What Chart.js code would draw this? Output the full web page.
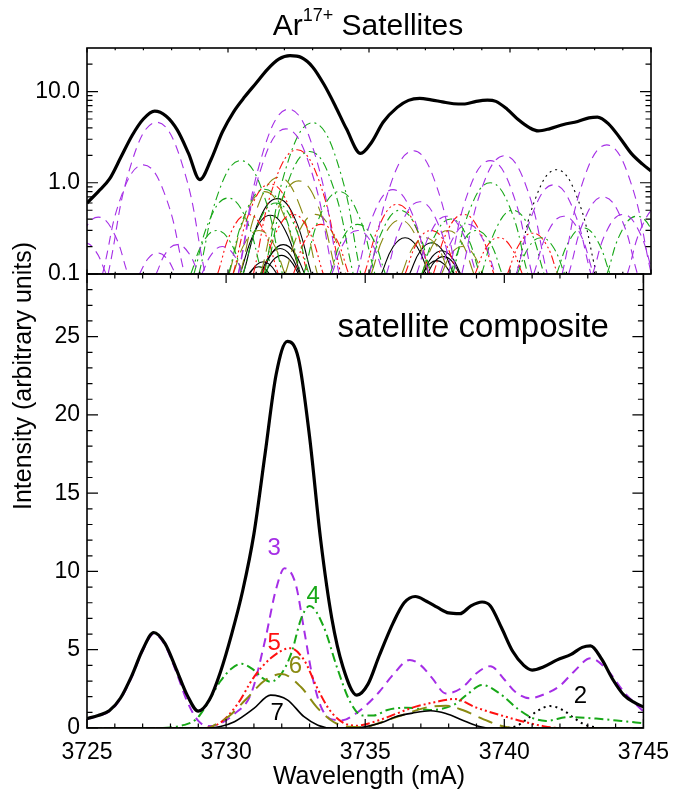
<!DOCTYPE html>
<html>
<head>
<meta charset="utf-8">
<title>Ar17+ Satellites</title>
<script src="https://cdn.jsdelivr.net/npm/chart.js"></script>
<style>
  body { margin: 0; background: #fff; }
  #lienzo { position: relative; width: 680px; height: 794px; }
  #lienzo canvas { position: absolute; left: 0; top: 0; }
</style>
</head>
<body>
<div id="lienzo">
  <canvas id="panelLog" width="680" height="794"></canvas>
  <canvas id="panelLineal" width="680" height="794"></canvas>
</div>
<script>
// Rango de longitud de onda (mA)
const xMin = 3725;
const xMax = 3745;
const xTicks = [3725, 3730, 3735, 3740, 3745];
const logTicks = [0.1, 1, 10];
const linTicks = [0, 5, 10, 15, 20, 25];

// Espectro compuesto de satélites [lambda, intensidad]
const composite = [[3725.0,0.6],[3725.4,0.8],[3725.8,1.1],[3726.2,1.9],[3726.6,3.3],[3727.0,5.0],[3727.4,6.1],[3727.8,5.4],[3728.2,3.8],[3728.6,2.1],[3729.0,1.08],[3729.4,1.8],[3729.8,3.6],[3730.2,6.0],[3730.6,8.8],[3731.0,12.4],[3731.4,17.5],[3731.8,22.6],[3732.2,24.7],[3732.6,23.6],[3733.0,18.6],[3733.4,12.0],[3733.8,7.0],[3734.2,3.9],[3734.7,2.1],[3735.1,2.8],[3735.5,4.6],[3736.0,6.7],[3736.4,8.0],[3736.8,8.4],[3737.2,8.1],[3737.6,7.7],[3738.0,7.35],[3738.4,7.3],[3738.8,7.8],[3739.2,8.05],[3739.5,7.8],[3739.9,6.4],[3740.3,4.9],[3740.7,4.0],[3741.0,3.7],[3741.4,3.9],[3741.9,4.35],[3742.4,4.7],[3742.8,5.15],[3743.1,5.25],[3743.5,4.4],[3743.9,3.1],[3744.3,2.1],[3744.7,1.6],[3745.0,1.35]];

// Suma por grupo n (panel inferior)
const curve2 = [[3739.9,0],[3740.4,0.1],[3740.8,0.55],[3741.2,1.1],[3741.65,1.4],[3742.1,1.15],[3742.5,0.65],[3742.9,0.2],[3743.3,0.03]];
const curve3 = [[3725.0,0.58],[3725.4,0.77],[3725.8,1.06],[3726.2,1.84],[3726.6,3.22],[3727.0,4.92],[3727.4,6.02],[3727.8,5.3],[3728.2,3.62],[3728.6,1.7],[3729.0,0.45],[3729.4,0.12],[3729.8,0.3],[3730.3,0.9],[3730.9,2.2],[3731.4,5.6],[3731.8,8.9],[3732.1,10.2],[3732.5,9.2],[3732.8,6.3],[3733.1,3.3],[3733.4,1.4],[3733.8,0.55],[3734.2,0.5],[3734.6,0.85],[3735.0,1.4],[3735.5,2.3],[3736.0,3.4],[3736.6,4.35],[3737.0,4.0],[3737.4,3.2],[3737.9,2.2],[3738.5,2.6],[3739.0,3.5],[3739.5,3.95],[3740.0,3.1],[3740.4,2.3],[3740.9,1.9],[3741.5,2.2],[3742.0,2.7],[3742.5,3.6],[3743.1,4.45],[3743.7,3.7],[3744.3,2.3],[3745.0,1.05]];
const curve4 = [[3725.0,0],[3727.6,0],[3728.0,0.03],[3728.5,0.2],[3728.8,0.4],[3729.0,0.7],[3729.2,1.2],[3729.8,3.0],[3730.2,3.8],[3730.55,4.1],[3731.0,3.7],[3731.3,3.2],[3731.6,2.95],[3732.0,3.5],[3732.35,4.8],[3732.7,7.0],[3733.0,7.8],[3733.5,6.5],[3734.0,3.8],[3734.45,1.7],[3734.9,0.8],[3735.3,0.8],[3735.8,1.15],[3736.5,1.3],[3737.3,1.15],[3738.2,1.5],[3738.7,2.2],[3739.2,2.75],[3739.8,2.25],[3740.5,1.2],[3741.0,0.65],[3741.5,0.45],[3742.3,0.7],[3743.3,0.6],[3744.2,0.45],[3745.0,0.3]];
const curve5 = [[3725.0,0],[3729.2,0],[3729.8,0.35],[3730.4,1.5],[3731.0,3.25],[3731.6,4.45],[3732.3,5.1],[3732.8,4.35],[3733.25,2.65],[3733.7,1.2],[3734.2,0.35],[3734.7,0.15],[3735.5,0.5],[3736.1,0.9],[3736.7,1.3],[3737.5,1.65],[3738.2,1.85],[3739.0,1.3],[3739.9,0.8],[3740.7,0.4],[3741.4,0.12],[3742.0,0],[3745.0,0]];
const curve6 = [[3725.0,0],[3729.3,0],[3729.7,0.3],[3730.1,0.75],[3730.7,1.8],[3731.4,3.05],[3732.0,3.45],[3732.7,2.6],[3733.25,1.35],[3733.85,0.4],[3734.4,0.08],[3735.0,0.05],[3735.3,0.2],[3736.2,0.75],[3737.3,1.35],[3737.9,1.42],[3738.5,1.15],[3739.2,0.6],[3739.8,0.18],[3740.3,0],[3745.0,0]];
const curve7 = [[3725.0,0],[3729.3,0],[3729.8,0.1],[3730.3,0.4],[3731.0,1.25],[3731.6,2.1],[3732.2,1.8],[3732.8,0.72],[3733.3,0.18],[3733.8,0],[3734.6,0],[3735.0,0.08],[3735.6,0.35],[3736.1,0.72],[3736.7,0.95],[3737.35,1.1],[3737.9,0.93],[3738.5,0.5],[3739.0,0.15],[3739.5,0],[3745.0,0]];

// Líneas individuales (panel logarítmico), una lista de puntos por línea
const lines2 = [
  [[3740.23,0.1],[3740.94,0.72],[3741.65,1.39],[3742.36,0.72],[3743.07,0.1]]
];
const lines3 = [
  [[3725.75,0.1],[3726.61,1.77],[3727.47,4.6],[3728.33,1.77],[3729.19,0.1]],
  [[3725.55,0.1],[3726.27,0.79],[3727.0,1.57],[3727.73,0.79],[3728.46,0.1]],
  [[3724.35,0.1],[3724.88,0.29],[3725.4,0.42],[3725.93,0.29],[3726.45,0.1]],
  [[3726.86,0.1],[3727.18,0.149],[3727.5,0.17],[3727.82,0.149],[3728.14,0.1]],
  [[3727.45,0.1],[3727.82,0.174],[3728.2,0.21],[3728.58,0.174],[3728.96,0.1]],
  [[3724.12,0.1],[3724.51,0.181],[3724.9,0.22],[3725.29,0.181],[3725.68,0.1]],
  [[3730.36,0.1],[3731.26,2.26],[3732.15,6.4],[3733.04,2.26],[3733.94,0.1]],
  [[3730.37,0.1],[3731.21,1.56],[3732.05,3.9],[3732.89,1.56],[3733.73,0.1]],
  [[3734.57,0.1],[3735.21,0.49],[3735.85,0.84],[3736.49,0.49],[3737.13,0.1]],
  [[3735.02,0.1],[3735.8,1.03],[3736.57,2.24],[3737.34,1.03],[3738.12,0.1]],
  [[3738.29,0.1],[3739.04,0.94],[3739.8,1.98],[3740.56,0.94],[3741.32,0.1]],
  [[3737.82,0.1],[3738.56,0.86],[3739.3,1.75],[3740.04,0.86],[3740.78,0.1]],
  [[3741.85,0.1],[3742.64,1.15],[3743.43,2.6],[3744.22,1.15],[3745.01,0.1]],
  [[3740.23,0.1],[3740.89,0.54],[3741.55,0.95],[3742.21,0.54],[3742.87,0.1]],
  [[3744.16,0.1],[3744.73,0.36],[3745.3,0.55],[3745.87,0.36],[3746.45,0.1]],
  [[3735.62,0.1],[3736.21,0.39],[3736.8,0.62],[3737.39,0.39],[3737.98,0.1]],
  [[3736.69,0.1],[3737.22,0.3],[3737.75,0.43],[3738.28,0.3],[3738.81,0.1]],
  [[3742.08,0.1],[3742.69,0.43],[3743.3,0.7],[3743.91,0.43],[3744.52,0.1]],
  [[3742.93,0.1],[3743.46,0.31],[3744.0,0.45],[3744.54,0.31],[3745.08,0.1]],
  [[3740.84,0.1],[3741.37,0.3],[3741.9,0.43],[3742.43,0.3],[3742.96,0.1]],
  [[3729.07,0.1],[3729.44,0.168],[3729.8,0.2],[3730.17,0.168],[3730.53,0.1]],
  [[3733.68,0.1],[3734.14,0.228],[3734.6,0.3],[3735.06,0.228],[3735.52,0.1]],
  [[3737.52,0.1],[3738.01,0.256],[3738.5,0.35],[3738.99,0.256],[3739.48,0.1]]
];
const lines4 = [
  [[3728.97,0.1],[3729.71,0.86],[3730.45,1.75],[3731.19,0.86],[3731.93,0.1]],
  [[3728.79,0.1],[3729.39,0.42],[3730.0,0.68],[3730.61,0.42],[3731.21,0.1]],
  [[3731.29,0.1],[3732.14,1.75],[3733.0,4.55],[3733.86,1.75],[3734.71,0.1]],
  [[3731.36,0.1],[3732.13,1.02],[3732.9,2.2],[3733.67,1.02],[3734.44,0.1]],
  [[3732.69,0.1],[3733.32,0.48],[3733.95,0.8],[3734.58,0.48],[3735.21,0.1]],
  [[3730.02,0.1],[3730.66,0.5],[3731.3,0.85],[3731.94,0.5],[3732.58,0.1]],
  [[3730.53,0.1],[3731.11,0.38],[3731.7,0.6],[3732.29,0.38],[3732.87,0.1]],
  [[3737.97,0.1],[3738.63,0.56],[3739.3,1.0],[3739.97,0.56],[3740.63,0.1]],
  [[3734.99,0.1],[3735.54,0.33],[3736.1,0.5],[3736.66,0.33],[3737.21,0.1]],
  [[3741.65,0.1],[3742.13,0.24],[3742.6,0.32],[3743.07,0.24],[3743.55,0.1]],
  [[3743.44,0.1],[3743.97,0.3],[3744.5,0.43],[3745.03,0.3],[3745.56,0.1]],
  [[3736.87,0.1],[3737.38,0.28],[3737.9,0.4],[3738.42,0.28],[3738.93,0.1]],
  [[3738.99,0.1],[3739.54,0.33],[3740.1,0.5],[3740.66,0.33],[3741.21,0.1]],
  [[3728.68,0.1],[3729.14,0.23],[3729.6,0.3],[3730.06,0.23],[3730.52,0.1]],
  [[3733.62,0.1],[3734.11,0.26],[3734.6,0.35],[3735.09,0.26],[3735.58,0.1]],
  [[3737.88,0.1],[3738.34,0.23],[3738.8,0.3],[3739.26,0.23],[3739.72,0.1]],
  [[3740.26,0.1],[3740.68,0.2],[3741.1,0.25],[3741.52,0.2],[3741.94,0.1]]
];
const lines5 = [
  [[3730.9,0.1],[3731.67,1.05],[3732.45,2.3],[3733.23,1.05],[3734.0,0.1]],
  [[3730.18,0.1],[3730.84,0.55],[3731.5,0.97],[3732.16,0.55],[3732.82,0.1]],
  [[3731.23,0.1],[3731.76,0.31],[3732.3,0.45],[3732.84,0.31],[3733.38,0.1]],
  [[3734.84,0.1],[3735.42,0.37],[3736.0,0.58],[3736.58,0.37],[3737.16,0.1]],
  [[3737.28,0.1],[3737.81,0.31],[3738.35,0.45],[3738.89,0.31],[3739.43,0.1]],
  [[3738.76,0.1],[3739.18,0.2],[3739.6,0.25],[3740.02,0.2],[3740.44,0.1]],
  [[3729.63,0.1],[3730.16,0.31],[3730.7,0.45],[3731.24,0.31],[3731.78,0.1]],
  [[3739.91,0.1],[3740.36,0.22],[3740.8,0.28],[3741.25,0.22],[3741.69,0.1]],
  [[3732.32,0.1],[3732.81,0.26],[3733.3,0.35],[3733.79,0.26],[3734.28,0.1]],
  [[3736.28,0.1],[3736.74,0.23],[3737.2,0.3],[3737.66,0.23],[3738.12,0.1]]
];
const lines6 = [
  [[3730.43,0.1],[3731.12,0.62],[3731.8,1.15],[3732.49,0.62],[3733.17,0.1]],
  [[3731.16,0.1],[3731.83,0.58],[3732.5,1.05],[3733.17,0.58],[3733.85,0.1]],
  [[3730.04,0.1],[3730.67,0.48],[3731.3,0.8],[3731.93,0.48],[3732.56,0.1]],
  [[3735.08,0.1],[3735.59,0.28],[3736.1,0.39],[3736.61,0.28],[3737.12,0.1]],
  [[3736.88,0.1],[3737.34,0.23],[3737.8,0.3],[3738.26,0.23],[3738.72,0.1]],
  [[3737.57,0.1],[3737.94,0.17],[3738.3,0.2],[3738.67,0.17],[3739.03,0.1]],
  [[3730.18,0.1],[3730.64,0.23],[3731.1,0.3],[3731.56,0.23],[3732.02,0.1]],
  [[3732.03,0.1],[3732.56,0.31],[3733.1,0.45],[3733.64,0.31],[3734.18,0.1]],
  [[3736.16,0.1],[3736.58,0.2],[3737.0,0.25],[3737.42,0.2],[3737.84,0.1]]
];
const lines7 = [
  [[3730.54,0.1],[3731.15,0.42],[3731.75,0.67],[3732.35,0.42],[3732.96,0.1]],
  [[3730.43,0.1],[3730.97,0.3],[3731.5,0.44],[3732.03,0.3],[3732.57,0.1]],
  [[3731.2,0.1],[3731.58,0.174],[3731.96,0.21],[3732.34,0.174],[3732.72,0.1]],
  [[3731.15,0.1],[3731.5,0.162],[3731.85,0.19],[3732.2,0.162],[3732.55,0.1]],
  [[3731.3,0.1],[3731.6,0.142],[3731.9,0.16],[3732.2,0.142],[3732.5,0.1]],
  [[3730.76,0.1],[3731.01,0.126],[3731.25,0.136],[3731.49,0.126],[3731.74,0.1]],
  [[3730.73,0.1],[3730.91,0.115],[3731.1,0.12],[3731.29,0.115],[3731.47,0.1]],
  [[3735.44,0.1],[3735.86,0.2],[3736.28,0.25],[3736.7,0.2],[3737.12,0.1]],
  [[3736.44,0.1],[3736.83,0.181],[3737.22,0.22],[3737.61,0.181],[3738.0,0.1]],
  [[3736.91,0.1],[3737.24,0.155],[3737.58,0.18],[3737.92,0.155],[3738.25,0.1]],
  [[3737.06,0.1],[3737.35,0.139],[3737.64,0.155],[3737.93,0.139],[3738.22,0.1]],
  [[3736.89,0.1],[3737.15,0.129],[3737.4,0.14],[3737.65,0.129],[3737.91,0.1]]
];

// Estilo de cada grupo n
const FONT = '"Liberation Sans", Arial, Helvetica, sans-serif';
const estilos = {
  2: { color: "#000000", dash: [2, 4] },
  3: { color: "#a52ee6", dash: [9, 6] },
  4: { color: "#17a817", dash: [9, 4, 2, 4] },
  5: { color: "#ff1010", dash: [9, 3, 2, 3, 2, 3, 2, 3] },
  6: { color: "#8a8a12", dash: [15, 8] },
  7: { color: "#000000", dash: [] },
};

// Etiquetas de grupo en el panel inferior
const etiquetas = [
  { text: "3", x: 3731.73, y: 11.5, n: 3 },
  { text: "4", x: 3733.13, y: 8.4, n: 4 },
  { text: "5", x: 3731.73, y: 5.4, n: 5 },
  { text: "6", x: 3732.49, y: 3.93, n: 6 },
  { text: "7", x: 3731.84, y: 0.94, n: 7 },
  { text: "2", x: 3742.74, y: 1.99, n: 2 },
];

const toXY = (pts) => pts.map((p) => ({ x: p[0], y: p[1] }));

function lineasDatasets(lines, n) {
  return lines.map((pts) => ({
    data: toXY(pts),
    borderColor: estilos[n].color,
    borderDash: estilos[n].dash,
    borderWidth: 1.1,
    pointRadius: 0,
    tension: 0.45,
    fill: false,
    order: 1,
  }));
}

function curvaDataset(pts, n, width) {
  return {
    data: toXY(pts),
    borderColor: estilos[n].color,
    borderDash: estilos[n].dash,
    borderWidth: width,
    pointRadius: 0,
    cubicInterpolationMode: "monotone",
    fill: false,
    order: 1,
  };
}

function compuestoDataset() {
  return {
    data: toXY(composite),
    borderColor: "#000",
    borderWidth: 3.2,
    pointRadius: 0,
    cubicInterpolationMode: "monotone",
    fill: false,
    order: -1,
  };
}

// Marco con marcas hacia adentro (estilo IDL)
function marco(xMajorLen, xMinorLen, yMajor, yMinor) {
  return {
    id: "marco",
    afterDraw(chart) {
      const { ctx, chartArea: a, scales } = chart;
      const sx = scales.x, sy = scales.y;
      ctx.save();
      ctx.strokeStyle = "#000";
      ctx.lineWidth = 1.2;
      ctx.beginPath();
      for (let v = xMin; v <= xMax; v++) {
        const px = sx.getPixelForValue(v);
        const len = v % 5 === 0 ? xMajorLen : xMinorLen;
        ctx.moveTo(px, a.bottom); ctx.lineTo(px, a.bottom - len);
        ctx.moveTo(px, a.top); ctx.lineTo(px, a.top + len);
      }
      yMajor.forEach((v) => {
        const py = sy.getPixelForValue(v);
        ctx.moveTo(a.left, py); ctx.lineTo(a.left + 11, py);
        ctx.moveTo(a.right, py); ctx.lineTo(a.right - 11, py);
      });
      yMinor.forEach((v) => {
        const py = sy.getPixelForValue(v);
        ctx.moveTo(a.left, py); ctx.lineTo(a.left + 5.5, py);
        ctx.moveTo(a.right, py); ctx.lineTo(a.right - 5.5, py);
      });
      ctx.stroke();
      ctx.lineWidth = 1.6;
      ctx.strokeRect(a.left, a.top, a.right - a.left, a.bottom - a.top);
      ctx.restore();
    },
  };
}

const logMinor = [0.2, 0.3, 0.4, 0.5, 0.6, 0.7, 0.8, 0.9, 2, 3, 4, 5, 6, 7, 8, 9, 20];
const linMinor = [];
for (let v = 1; v <= 28; v++) if (v % 5 !== 0) linMinor.push(v);

// Título con superíndice
const tituloPlugin = {
  id: "titulo",
  afterDraw(chart) {
    const ctx = chart.ctx;
    ctx.save();
    ctx.fillStyle = "#000";
    ctx.textBaseline = "alphabetic";
    ctx.textAlign = "left";
    const big = "30px " + FONT, small = "18px " + FONT;
    ctx.font = big;
    const wAr = ctx.measureText("Ar").width;
    const wSat = ctx.measureText(" Satellites").width;
    ctx.font = small;
    const wSup = ctx.measureText("17+").width;
    let x = 368 - (wAr + wSup + wSat) / 2;
    ctx.font = big;
    ctx.fillText("Ar", x, 35);
    x += wAr;
    ctx.font = small;
    ctx.fillText("17+", x, 21);
    x += wSup;
    ctx.font = big;
    ctx.fillText(" Satellites", x, 35);
    ctx.restore();
  },
};

// Textos del panel inferior: ejes, etiquetas de grupo y leyenda
const textosPlugin = {
  id: "textos",
  afterDraw(chart) {
    const { ctx, scales } = chart;
    ctx.save();
    ctx.fillStyle = "#000";
    ctx.textAlign = "center";
    ctx.textBaseline = "middle";
    ctx.font = "25px " + FONT;
    ctx.fillText("Wavelength (mA)", 369, 777);
    ctx.translate(24, 376);
    ctx.rotate(-Math.PI / 2);
    ctx.fillText("Intensity (arbitrary units)", 0, 0);
    ctx.restore();

    ctx.save();
    ctx.textAlign = "center";
    ctx.textBaseline = "middle";
    ctx.font = "24px " + FONT;
    etiquetas.forEach((e) => {
      ctx.fillStyle = estilos[e.n].color;
      ctx.fillText(e.text, scales.x.getPixelForValue(e.x), scales.y.getPixelForValue(e.y));
    });
    ctx.fillStyle = "#000";
    ctx.textAlign = "left";
    ctx.textBaseline = "alphabetic";
    ctx.font = "33px " + FONT;
    ctx.fillText("satellite composite", scales.x.getPixelForValue(3734.0), scales.y.getPixelForValue(25.0));
    ctx.restore();
  },
};

const tickFont = { family: FONT, size: 23 };

// Panel superior: escala logarítmica
new Chart(document.getElementById("panelLog"), {
  type: "line",
  data: {
    datasets: [
      compuestoDataset(),
      ...lineasDatasets(lines3, 3),
      ...lineasDatasets(lines4, 4),
      ...lineasDatasets(lines5, 5),
      ...lineasDatasets(lines6, 6),
      ...lineasDatasets(lines7, 7),
      ...lineasDatasets(lines2, 2),
    ],
  },
  options: {
    responsive: false,
    animation: false,
    devicePixelRatio: 1,
    layout: { padding: { left: 0, right: 29, top: 48, bottom: 520 } },
    plugins: { legend: { display: false }, tooltip: { enabled: false } },
    scales: {
      x: {
        type: "linear", min: xMin, max: xMax,
        grid: { display: false, drawTicks: false }, border: { display: false },
        ticks: { display: false },
        afterFit: (s) => { s.height = 0; },
      },
      y: {
        type: "logarithmic", min: 0.1, max: 30,
        grid: { display: false, drawTicks: false }, border: { display: false },
        ticks: { color: "#000", font: tickFont, padding: 7, callback: (v) => Number(v).toFixed(1) },
        afterBuildTicks: (s) => { s.ticks = logTicks.map((v) => ({ value: v })); },
        afterFit: (s) => { s.width = 87; },
      },
    },
  },
  plugins: [marco(4.5, 2.3, logTicks, logMinor), tituloPlugin],
});

// Panel inferior: escala lineal con las sumas por grupo
new Chart(document.getElementById("panelLineal"), {
  type: "line",
  data: {
    datasets: [
      compuestoDataset(),
      curvaDataset(curve7, 7, 1.6),
      curvaDataset(curve6, 6, 2),
      curvaDataset(curve5, 5, 2),
      curvaDataset(curve4, 4, 2),
      curvaDataset(curve3, 3, 2),
      curvaDataset(curve2, 2, 2),
    ],
  },
  options: {
    responsive: false,
    animation: false,
    devicePixelRatio: 1,
    layout: { padding: { left: 0, right: 29, top: 274, bottom: 0 } },
    plugins: { legend: { display: false }, tooltip: { enabled: false } },
    scales: {
      x: {
        type: "linear", min: xMin, max: xMax,
        grid: { display: false, drawTicks: false }, border: { display: false },
        ticks: { color: "#000", font: tickFont, padding: 11, autoSkip: false, maxRotation: 0, callback: (v) => String(v) },
        afterBuildTicks: (s) => { s.ticks = xTicks.map((v) => ({ value: v })); },
        afterFit: (s) => { s.height = 66; },
      },
      y: {
        type: "linear", min: 0, max: 29,
        grid: { display: false, drawTicks: false }, border: { display: false },
        ticks: { color: "#000", font: tickFont, padding: 7, callback: (v) => String(v) },
        afterBuildTicks: (s) => { s.ticks = linTicks.map((v) => ({ value: v })); },
        afterFit: (s) => { s.width = 87; },
      },
    },
  },
  plugins: [marco(9, 4.5, linTicks, linMinor), textosPlugin],
});
</script>
</body>
</html>
